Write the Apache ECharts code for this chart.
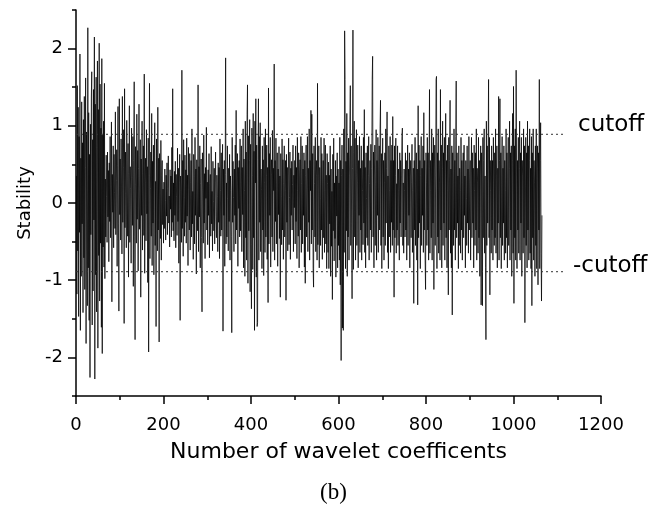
<!DOCTYPE html>
<html>
<head>
<meta charset="utf-8">
<script src="https://cdn.jsdelivr.net/npm/echarts@6/dist/echarts.min.js"></script>
<style>html,body{margin:0;padding:0;background:#fff;}#chart{width:667px;height:510px;}</style>
</head>
<body>
<div id="chart"></div>
<script>
// Stability value for each wavelet coefficient (index 1..N)
const stability = [
0.35,-1.18,1.52,-0.62,1.24,-1.47,0.86,-0.38,1.93,-1.65,0.58,-0.95,1.31,-0.27,0.78,-1.42,1.08,-0.71,1.38,-1.12,0.46,1.62,-1.82,0.92,-0.48,
-1.33,2.27,-0.84,1.17,-1.52,0.63,-2.26,1.02,-0.41,1.36,1.7,-1.58,0.82,-1.14,1.47,-0.22,2.15,-2.28,1.28,-0.93,1.63,-1.41,0.72,1.84,-1.88,
1.21,-0.68,2.07,-1.27,1.54,-0.52,0.97,-1.61,1.87,-1.95,0.88,-0.57,1.06,-0.83,1.55,-0.98,0.31,-0.44,0.62,0.08,-0.51,0.66,-0.18,0.42,-0.76,
0.52,-0.24,0.86,-0.45,0.21,1.05,-1.28,0.37,-0.12,0.74,-0.58,0.63,0.14,-0.33,1.18,-0.41,0.29,0.69,-0.82,0.48,1.25,-0.26,-1.4,1.35,-0.15,
0.57,-0.48,0.83,0.22,-0.66,1.38,-0.25,0.46,0.95,-1.56,1.48,-0.32,0.66,0.12,-0.58,1.07,0.31,-0.43,0.77,-0.96,0.38,1.26,-0.51,0.47,0.19,
-0.78,0.97,0.33,-0.29,0.86,-1.08,0.55,1.57,-0.44,-1.77,0.73,0.24,-0.52,1.15,-0.21,0.68,-0.88,0.45,1.28,-0.34,0.18,0.82,-1.22,0.57,-0.16,
1.06,-0.61,0.38,0.74,-0.42,1.67,-0.91,0.27,0.58,-0.49,0.95,-0.14,0.47,-1.03,0.84,-1.93,0.36,1.55,-0.72,0.19,0.66,-0.43,1.16,-0.81,0.54,
-0.26,0.75,-0.93,0.44,1.04,-0.55,0.28,-1.6,0.83,0.17,-0.62,1.24,-0.35,0.58,-1.8,0.64,0.12,-0.46,0.81,-0.74,0.36,0.55,-0.28,0.18,-0.52,
0.27,-0.33,0.44,0.03,-0.48,0.36,-0.17,0.52,-0.41,0.19,0.61,-0.26,0.09,-0.57,0.43,-0.08,0.35,-0.44,0.72,-0.25,1.48,-0.36,0.26,-0.49,0.41,
-0.16,0.54,-0.58,0.37,0.08,-0.42,0.71,-0.24,0.45,-0.78,0.27,0.63,-1.52,0.35,0.16,-0.51,1.72,-0.33,0.55,-0.69,0.82,0.07,-0.43,0.62,-0.25,
0.43,-0.52,0.84,-0.17,0.36,-0.81,0.72,0.18,-0.35,0.64,-0.61,0.26,0.55,-0.44,0.96,-0.27,0.15,-0.73,0.63,0.34,-0.53,0.85,-0.16,0.44,-0.92,
0.56,0.09,-0.36,1.53,-0.63,0.47,-0.18,0.74,-0.84,0.25,0.57,-0.45,-1.41,0.65,0.17,-0.52,0.88,-0.26,0.38,-0.72,0.46,0.06,0.98,-0.35,0.27,
-0.54,0.43,-0.16,0.64,-0.71,0.25,0.37,-0.43,0.73,-0.27,0.15,-0.62,0.54,0.02,-0.36,0.45,-0.53,0.26,0.66,-0.17,-0.45,0.36,0.08,-0.63,0.52,
-0.25,0.46,-0.72,0.83,0.16,-0.43,0.65,-0.35,0.27,0.76,-1.66,0.44,-0.16,0.55,-0.82,0.37,1.88,-0.53,0.26,-0.44,0.74,0.06,-0.62,0.45,-0.24,
0.63,-0.74,0.35,0.16,-0.43,-1.68,0.85,-0.25,0.54,0.07,-0.63,0.44,-0.16,0.75,-0.53,1.2,-0.35,0.26,0.64,-0.82,0.46,-0.07,0.55,-0.44,0.83,
-0.36,0.27,0.74,-0.63,0.46,-0.15,0.96,-0.84,0.57,0.16,-0.95,1.06,-0.45,0.66,-0.74,1.15,1.53,-1.04,0.87,-0.36,0.55,1.08,-1.15,0.76,-0.54,
-1.37,0.97,0.36,-0.86,1.16,-0.45,0.67,-1.65,1.06,0.26,1.35,-0.96,0.75,-1.6,-1.55,0.56,1.35,-0.74,0.86,-0.25,1.04,-0.63,0.44,0.17,-0.85,
0.74,-0.35,0.56,-0.94,0.85,0.27,-0.64,0.96,-0.44,0.36,0.75,-0.73,0.46,-1.29,1.49,-0.53,0.64,-0.16,0.85,-0.83,0.37,0.56,-0.44,0.94,-0.63,
0.45,0.16,1.8,-0.74,0.55,-0.24,0.84,-0.53,0.26,0.65,-0.82,0.44,-0.15,0.73,-0.46,0.35,-1.22,0.64,0.08,-0.54,0.83,-0.35,0.56,-0.73,0.25,
0.74,-0.44,0.16,0.55,-1.26,0.63,-0.25,0.46,-0.62,0.35,0.84,-0.54,0.07,0.66,-0.73,0.45,-0.16,0.54,-0.35,0.24,0.75,-0.63,0.36,-0.06,0.55,
-0.53,0.74,-0.24,0.46,-0.72,0.85,0.16,-0.43,0.65,-0.84,0.35,0.56,-0.35,0.86,-0.64,0.25,0.74,-0.53,0.44,-0.16,0.65,-0.83,0.55,-1.04,0.36,
0.75,-0.44,0.26,0.86,-0.63,0.45,-0.25,0.96,-0.74,0.55,0.16,1.2,-0.53,1.15,-0.35,0.64,-0.85,-1.09,0.74,0.25,-0.44,0.85,-0.63,0.36,0.55,
-0.74,1.55,-0.54,0.35,0.74,-0.84,0.46,0.06,-0.55,0.85,-0.35,0.64,-0.73,0.26,0.55,-0.45,0.84,-0.64,0.16,0.75,-0.53,0.36,-0.85,0.64,0.25,
-0.64,0.53,-0.85,0.36,-0.27,0.74,-0.95,0.44,-0.56,0.15,-1.25,0.63,-0.36,0.84,-0.75,0.26,-0.46,0.55,-0.96,0.35,-0.17,0.65,-0.84,0.44,-0.55,
0.26,-0.74,0.85,-1.06,0.55,-2.04,0.36,0.75,-1.62,0.44,-1.65,0.96,-0.64,2.23,1.6,-0.85,0.54,-0.36,1.16,-0.95,0.65,-0.44,0.84,-0.74,0.35,
0.96,1.52,-0.55,0.74,-0.26,-1.24,0.45,2.24,-0.86,0.65,1.06,-0.44,0.84,-0.74,0.36,0.95,-0.55,0.26,0.75,-0.84,0.55,-0.16,0.86,-0.64,0.45,
-0.35,0.74,-0.74,0.55,0.16,-0.54,0.85,-0.26,1.21,-0.64,0.46,-0.84,0.65,0.06,-0.45,0.74,-0.55,0.36,0.86,-0.74,0.25,0.55,-0.35,0.76,-0.64,
0.45,1.6,1.9,-0.44,0.66,-0.84,0.35,0.75,-0.55,0.26,0.95,-0.74,0.55,-0.16,0.85,-0.64,0.44,0.74,-0.35,0.96,1.33,-0.55,0.64,-0.85,0.35,
0.84,-0.44,0.55,-0.74,0.26,0.65,-0.55,0.96,-0.26,0.45,1.18,-0.64,0.35,-0.85,0.74,0.16,-0.44,0.86,-0.64,0.55,-0.25,0.75,-0.55,1.12,-0.35,
0.55,-1.22,0.74,-0.45,0.36,0.84,-0.65,0.25,-0.35,0.74,-0.55,0.44,0.16,-0.74,0.65,-0.26,0.55,-0.44,0.35,0.86,0.97,-0.55,0.26,-0.65,0.44,
0.16,-0.44,0.65,-0.35,0.55,-0.74,0.26,0.75,-0.55,0.44,-0.16,0.65,-0.84,0.35,0.55,-0.45,0.26,0.76,-0.64,0.16,0.45,-1.3,0.55,-0.35,0.85,
-0.55,0.35,0.65,-0.74,0.44,-1.32,1.26,-0.45,0.75,-0.26,0.55,-0.85,0.36,0.86,-0.55,0.45,-0.16,0.74,-0.64,1.17,-0.35,0.55,-0.74,-1.12,0.65,
0.26,-0.55,0.85,-0.35,0.65,-0.74,0.45,1.47,-0.65,0.55,0.16,-0.45,0.96,-0.74,0.65,-0.26,0.85,-1.12,0.44,0.75,-0.55,0.35,1.6,1.64,-0.85,
0.65,-0.44,0.96,-0.65,0.55,0.26,-0.74,1.47,-0.35,0.75,-0.84,0.45,1.06,-0.55,0.65,-0.26,0.85,-0.74,0.35,1.16,-0.45,0.55,-0.84,0.75,0.16,
-1.19,0.85,-0.35,0.55,1.33,-0.65,0.44,-0.84,0.74,-1.45,0.65,0.26,-0.55,0.96,-0.35,0.55,-0.74,0.86,1.58,-0.45,0.65,-0.26,0.35,-0.85,0.74,
-0.55,0.45,0.16,-0.65,0.85,-0.35,0.55,-0.74,0.26,0.65,-0.45,0.75,-0.16,0.35,-0.84,0.55,0.06,-0.55,0.74,-0.26,0.44,-0.65,0.86,-0.35,0.26,
0.55,-0.74,0.35,0.85,-0.45,0.65,-0.26,0.45,-0.84,0.75,0.16,-0.55,0.65,-0.35,0.96,-0.74,0.45,0.26,-0.65,0.85,-0.45,0.55,-0.95,0.35,0.74,
-1.32,0.65,0.26,-1.33,0.85,-0.45,0.55,0.96,-0.65,0.35,-0.84,-1.77,1.06,-0.55,0.74,-0.26,0.65,1.6,-0.45,0.85,-1.19,0.55,0.16,-0.65,0.74,
-0.35,0.55,-0.74,0.85,0.26,-0.55,0.65,-0.45,0.96,-0.65,0.35,0.74,-0.84,0.45,-0.26,1.38,-0.74,0.55,1.35,-0.45,0.65,-0.85,0.35,0.86,-0.55,
0.45,-0.26,0.74,-0.74,0.55,0.16,-0.65,0.96,-0.45,0.65,-0.84,0.35,0.85,-0.55,0.45,1.06,-0.74,0.65,-0.35,0.74,-0.95,0.55,1.16,-0.65,1.51,
-1.3,0.74,-0.45,0.96,-0.74,1.72,1.71,-0.85,0.55,-0.35,0.85,-0.65,0.45,1.06,-0.74,0.65,-0.26,0.85,-0.95,0.55,0.35,-0.65,0.96,-0.45,0.74,
-1.55,-1.57,0.85,-0.55,0.65,-0.84,1.06,-0.35,0.74,-0.74,0.55,0.96,-0.65,0.45,-0.85,0.86,-1.33,0.65,-0.45,0.96,-0.74,0.55,0.26,-0.95,0.74,
-0.55,0.96,-0.85,0.45,0.74,-1.06,0.65,-0.35,1.6,-0.85,0.55,1.04,-0.65,-1.27,-0.16
];
const cutoff = 0.89;
const cutoffLineEnd = 1115;
const yTicks = [-2, -1, 0, 1, 2];
const xTitle = 'Number of wavelet coefficents';
const yTitle = 'Stability';
const cutoffLabel = 'cutoff';
const negCutoffLabel = '-cutoff';
const caption = '(b)';

const chart = echarts.init(document.getElementById('chart'), null, {renderer: 'canvas'});
const seriesData = stability.map((v, i) => [i + 1, v]);
const FONT = 'DejaVu Sans';

chart.setOption({
  backgroundColor: '#ffffff',
  animation: false,
  grid: {left: 76, right: 66, top: 10, bottom: 114},
  xAxis: {
    type: 'value', min: 0, max: 1200, interval: 200,
    name: xTitle, nameLocation: 'middle', nameGap: 45,
    nameTextStyle: {fontFamily: FONT, fontSize: 22, color: '#000'},
    axisLine: {show: true, onZero: false, lineStyle: {color: '#000', width: 1.5}},
    axisTick: {show: true, length: 8, lineStyle: {color: '#000', width: 1.5}},
    minorTick: {show: true, splitNumber: 2, length: 4, lineStyle: {color: '#000', width: 1.5}},
    axisLabel: {fontFamily: FONT, fontSize: 18, color: '#000', margin: 20, formatter: v => String(v)},
    splitLine: {show: false}
  },
  yAxis: [{
    type: 'value', min: -2.5, max: 2.5,
    name: yTitle, nameLocation: 'middle', nameGap: 40, nameRotate: 90,
    nameTextStyle: {fontFamily: FONT, fontSize: 18, color: '#000'},
    axisLine: {show: true, onZero: false, lineStyle: {color: '#000', width: 1.5}},
    axisTick: {show: true, length: 8, customValues: yTicks, lineStyle: {color: '#000', width: 1.5}},
    axisLabel: {fontFamily: FONT, fontSize: 18, color: '#000', margin: 13, customValues: yTicks, formatter: v => String(v)},
    splitLine: {show: false}
  }, {
    type: 'value', min: -2.5, max: 2.5, interval: 0.5, position: 'left',
    axisLine: {show: false},
    axisTick: {show: true, length: 4, lineStyle: {color: '#000', width: 1.5}},
    axisLabel: {show: false},
    splitLine: {show: false}
  }],
  series: [{
    type: 'line', data: seriesData, showSymbol: false, symbol: 'none',
    sampling: null, silent: true,
    lineStyle: {color: '#000', width: 0.75}
  }, {
    type: 'line', data: [[0, cutoff], [cutoffLineEnd, cutoff]], symbol: 'none', silent: true,
    lineStyle: {color: '#333', width: 1, type: [2, 3]}
  }, {
    type: 'line', data: [[0, -cutoff], [cutoffLineEnd, -cutoff]], symbol: 'none', silent: true,
    lineStyle: {color: '#333', width: 1, type: [2, 3]}
  }],
  graphic: [
    {type: 'text', left: 578, top: 114, style: {text: cutoffLabel, fontFamily: FONT, fontSize: 23, fill: '#000'}},
    {type: 'text', left: 573, top: 255, style: {text: negCutoffLabel, fontFamily: FONT, fontSize: 23, fill: '#000'}},
    {type: 'text', left: 320, top: 481, style: {text: caption, fontFamily: 'Liberation Serif', fontSize: 23, fill: '#000'}}
  ]
});
</script>
</body>
</html>
